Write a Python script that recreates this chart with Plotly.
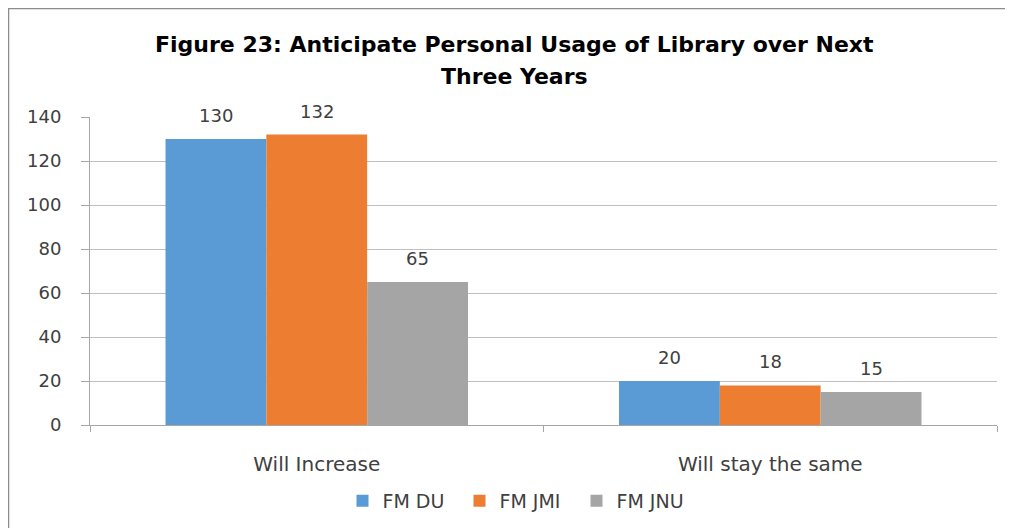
import plotly.graph_objects as go

categories = ["Will Increase", "Will stay the same"]
series_names = ["FM DU", "FM JMI", "FM JNU"]
fm_du = [130, 20]
fm_jmi = [132, 18]
fm_jnu = [65, 15]
colors = ["#5B9BD5", "#ED7D31", "#A5A5A5"]
title_lines = ["Figure 23: Anticipate Personal Usage of Library over Next", "Three Years"]

# page body has an 8px margin, so the figure is drawn 8px in from the window edges
W, H = 1005, 520
ML, MR, MT, MB = 82, 16, 109, 103
PW, PH = W - ML - MR, H - MT - MB
FONT = "DejaVu Sans"
BARGAP = 0.333

fig = go.Figure()
all_series = [fm_du, fm_jmi, fm_jnu]
for name, vals, c in zip(series_names, all_series, colors):
    fig.add_trace(go.Bar(
        x=categories, y=vals, name=name, marker=dict(color=c, line=dict(width=0)),
    ))

def px_x(p):
    return (p - ML) / PW

def px_y(p):
    return (H - MB - p) / PH

annotations = []
for i, line in enumerate(title_lines):
    annotations.append(dict(text="<b>" + line + "</b>", xref="paper", yref="paper",
                            x=px_x(506), y=px_y(37 + 32 * i), xanchor="center", yanchor="middle",
                            showarrow=False, font=dict(size=22, color="#000000", family=FONT)))

# data labels, placed over each bar of the group
bar_px = PW / len(categories) * (1 - BARGAP) / len(all_series)
for si, vals in enumerate(all_series):
    for cat, v in zip(categories, vals):
        annotations.append(dict(text=str(v), xref="x", yref="y", x=cat, y=v,
                                xshift=(si - (len(all_series) - 1) / 2) * bar_px, yshift=11,
                                yanchor="bottom", xanchor="center", showarrow=False,
                                font=dict(size=18, color="#404040", family=FONT)))

fig.update_layout(
    width=W, height=H,
    margin=dict(l=ML, r=MR, t=MT, b=MB, autoexpand=False),
    paper_bgcolor="white", plot_bgcolor="white",
    barmode="group", bargap=BARGAP, bargroupgap=0,
    font=dict(family=FONT, size=18, color="#404040"),
    showlegend=True,
    legend=dict(orientation="h", x=px_x(510), xanchor="center", y=px_y(493), yanchor="middle",
                font=dict(size=19, color="#404040", family=FONT), itemwidth=30,
                entrywidth=72, entrywidthmode="pixels", traceorder="normal"),
    yaxis=dict(range=[0, 140], dtick=20, showgrid=True, gridcolor="#BFBFBF", gridwidth=1,
               showline=True, linecolor="#A6A6A6", ticks="outside", ticklen=8, tickcolor="#A6A6A6",
               zeroline=False, tickfont=dict(size=18, color="#404040", family=FONT),
               ticklabelstandoff=16),
    xaxis=dict(showline=True, linecolor="#A6A6A6", ticks="outside", ticklen=6, tickcolor="#A6A6A6",
               tickson="boundaries", tickfont=dict(size=20, color="#404040", family=FONT),
               ticklabelstandoff=21),
    annotations=annotations,
    shapes=[dict(type="rect", xref="paper", yref="paper",
                 x0=px_x(0.5), y0=px_y(H + 20), x1=px_x(W + 20), y1=px_y(0.5),
                 line=dict(color="#8C8C8C", width=1.5), fillcolor="rgba(0,0,0,0)", layer="below")],
)

fig.write_html("out.html")
